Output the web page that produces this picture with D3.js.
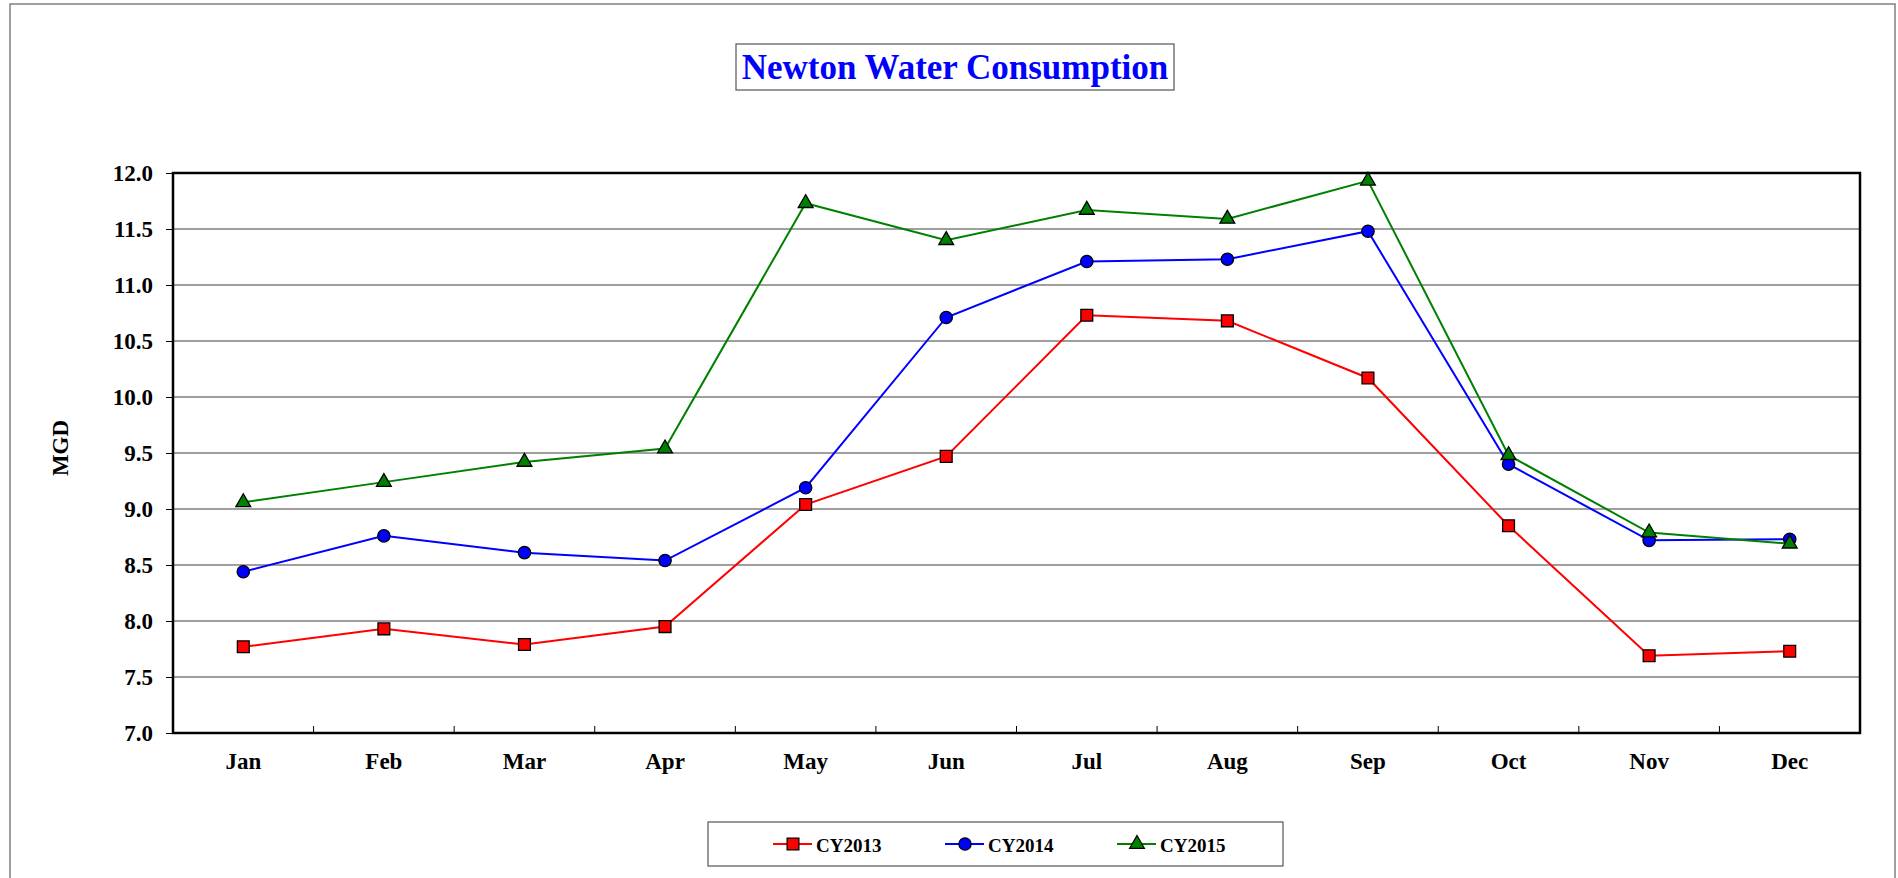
<!DOCTYPE html>
<html>
<head>
<meta charset="utf-8">
<script src="https://cdn.jsdelivr.net/npm/d3@7"></script>
<style>
  body { margin: 0; background: #fff; }
  text { font-family: "Liberation Serif", "Times New Roman", serif; font-weight: bold; }
</style>
</head>
<body>
<script>
var months = ["Jan","Feb","Mar","Apr","May","Jun","Jul","Aug","Sep","Oct","Nov","Dec"]
var cy2013 = [7.77, 7.93, 7.79, 7.95, 9.04, 9.47, 10.73, 10.68, 10.17, 8.85, 7.69, 7.73]
var cy2014 = [8.44, 8.76, 8.61, 8.54, 9.19, 10.71, 11.21, 11.23, 11.48, 9.40, 8.72, 8.73]
var cy2015 = [9.06, 9.24, 9.42, 9.54, 11.73, 11.40, 11.67, 11.59, 11.93, 9.48, 8.79, 8.69]
var yTicks = [7.0, 7.5, 8.0, 8.5, 9.0, 9.5, 10.0, 10.5, 11.0, 11.5, 12.0]
var seriesNames = ["CY2013","CY2014","CY2015"]

var width = 1898
var height = 878

var plotLeft = 173, plotRight = 1860, plotTop = 173, plotBottom = 733

var svg = d3.select("body")
            .append("svg")
            .attr("width",width)
            .attr("height",height)

// outer frame
svg.append("rect")
   .attr("x",10).attr("y",4)
   .attr("width",1885).attr("height",900)
   .attr("fill","none")
   .attr("stroke","#808080")
   .attr("stroke-width",1.5)

var xScale = d3.scaleBand()
               .domain(months)
               .range([plotLeft,plotRight]);

var yScale = d3.scaleLinear()
               .domain([7,12])
               .range([plotBottom,plotTop]);

// gridlines
svg.append("g")
   .selectAll("line")
   .data(yTicks.slice(1,-1))
   .enter()
   .append("line")
   .attr("x1",plotLeft).attr("x2",plotRight)
   .attr("y1",function(d){ return yScale(d); })
   .attr("y2",function(d){ return yScale(d); })
   .attr("stroke","#7f7f7f")
   .attr("stroke-width",1.5)

var yAxis = d3.axisLeft()
              .scale(yScale)
              .tickValues(yTicks)
              .tickFormat(d3.format(".1f"))
              .tickSize(7)
              .tickPadding(13);

var gy = svg.append("g")
   .attr("transform","translate("+plotLeft+",0)")
   .call(yAxis);
gy.select(".domain").remove();
gy.selectAll("line").attr("stroke","#000").attr("stroke-width",1);
gy.selectAll("text").attr("font-size",23).attr("fill","#000")
  .style("font-family","'Liberation Serif', serif").style("font-weight","bold");

var xAxis = d3.axisBottom()
              .scale(xScale)
              .tickSize(0)
              .tickPadding(20);

var gx = svg.append("g")
   .attr("transform","translate(0,"+plotBottom+")")
   .call(xAxis);
gx.select(".domain").remove();
gx.selectAll("text").attr("font-size",23).attr("fill","#000")
  .style("font-family","'Liberation Serif', serif").style("font-weight","bold");

// inner ticks at category boundaries
svg.append("g")
   .selectAll("line")
   .data(months.slice(1))
   .enter()
   .append("line")
   .attr("x1",function(d){ return xScale(d); })
   .attr("x2",function(d){ return xScale(d); })
   .attr("y1",plotBottom).attr("y2",plotBottom-7)
   .attr("stroke","#000")
   .attr("stroke-width",1)

// plot frame
svg.append("rect")
   .attr("x",plotLeft).attr("y",plotTop)
   .attr("width",plotRight-plotLeft).attr("height",plotBottom-plotTop)
   .attr("fill","none")
   .attr("stroke","#000")
   .attr("stroke-width",2.5)

// y label
svg.append("text")
   .attr("transform","translate(60,448) rotate(-90)")
   .attr("text-anchor","middle")
   .attr("dominant-baseline","central")
   .attr("font-size",23)
   .text("MGD")

// title
var titleG = svg.append("g")
titleG.append("rect")
   .attr("x",736).attr("y",44)
   .attr("width",438).attr("height",46)
   .attr("fill","#fff")
   .attr("stroke","#555")
   .attr("stroke-width",1.2)
titleG.append("text")
   .attr("x",955).attr("y",79)
   .attr("text-anchor","middle")
   .attr("font-size",35)
   .attr("fill","#0000ff")
   .text("Newton Water Consumption")

var series = [
  {name:seriesNames[0], values:cy2013, color:"#ff0000", shape:d3.symbolSquare, size:140},
  {name:seriesNames[1], values:cy2014, color:"#0000ff", shape:d3.symbolCircle, size:120},
  {name:seriesNames[2], values:cy2015, color:"#008000", shape:d3.symbolTriangle, size:95}
]

var line = d3.line()
             .x(function(d,i){ return xScale(months[i]) + xScale.bandwidth()/2; })
             .y(function(d){ return yScale(d); });

series.forEach(function(s){
  svg.append("path")
     .datum(s.values)
     .attr("d",line)
     .attr("fill","none")
     .attr("stroke",s.color)
     .attr("stroke-width",2)

  svg.append("g")
     .selectAll("path")
     .data(s.values)
     .enter()
     .append("path")
     .attr("d",d3.symbol().type(s.shape).size(s.size))
     .attr("transform",function(d,i){
       return "translate("+(xScale(months[i])+xScale.bandwidth()/2)+","+yScale(d)+")";
     })
     .attr("fill",s.color)
     .attr("stroke","#000")
     .attr("stroke-width",1.3)
});

// legend
var legend = svg.append("g")
legend.append("rect")
   .attr("x",708).attr("y",822)
   .attr("width",575).attr("height",44)
   .attr("fill","#fff")
   .attr("stroke","#555")
   .attr("stroke-width",1.2)

var legendX = [773, 945, 1117]
series.forEach(function(s,i){
  var g = legend.append("g").attr("transform","translate("+legendX[i]+",844)")
  g.append("line")
   .attr("x1",0).attr("x2",39)
   .attr("stroke",s.color).attr("stroke-width",2)
  g.append("path")
   .attr("d",d3.symbol().type(s.shape).size(s.size))
   .attr("transform","translate(20,0)")
   .attr("fill",s.color)
   .attr("stroke","#000")
   .attr("stroke-width",1.2)
  g.append("text")
   .attr("x",43).attr("y",1)
   .attr("dominant-baseline","central")
   .attr("font-size",19)
   .text(s.name)
});
</script>
</body>
</html>
